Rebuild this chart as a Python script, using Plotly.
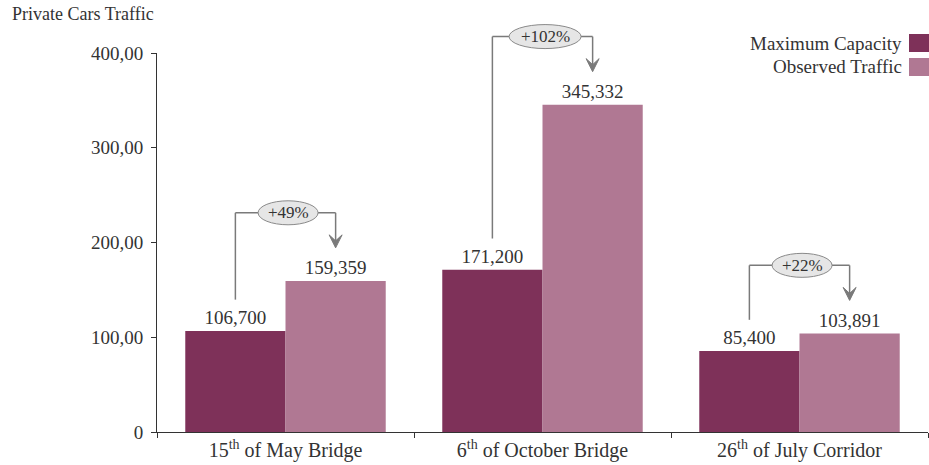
import plotly.graph_objects as go

categories = ["15th of May Bridge", "6th of October Bridge", "26th of July Corridor"]
category_labels = ["15<sup>th</sup> of May Bridge", "6<sup>th</sup> of October Bridge", "26<sup>th</sup> of July Corridor"]
max_capacity = [106.700, 171.200, 85.400]
observed_traffic = [159.359, 345.332, 103.891]
max_labels = ["106,700", "171,200", "85,400"]
obs_labels = ["159,359", "345,332", "103,891"]
pct_labels = ["+49%", "+102%", "+22%"]
y_tickvals = [0, 100, 200, 300, 400]
y_ticktext = ["0", "100,00", "200,00", "300,00", "400,00"]

DARK = "#7E3159"
LIGHT = "#B07893"
FONT = "Liberation Serif"
TXT = "#333333"
GREY = "#7a7a7a"

W, H = 929, 465
L, R, T, B = 157, 1, 53, 33
PW, PH = W - L - R, H - T - B
YMAX = 400.0
NCAT = len(categories)


def px_x(px):
    return (px - L) / PW


def px_y(py):
    return (H - B - py) / PH


def val_y(v):
    return v / YMAX


fig = go.Figure()
fig.add_trace(go.Bar(x=categories, y=max_capacity, name="Maximum Capacity",
                     marker=dict(color=DARK, line=dict(width=0)),
                     text=max_labels, textposition="outside",
                     textfont=dict(family=FONT, size=19, color=TXT), cliponaxis=False))
fig.add_trace(go.Bar(x=categories, y=observed_traffic, name="Observed Traffic",
                     marker=dict(color=LIGHT, line=dict(width=0)),
                     text=obs_labels, textposition="outside",
                     textfont=dict(family=FONT, size=19, color=TXT), cliponaxis=False))

bargap = 0.22
off = (1 - bargap) / 4  # center offset of each bar within a group
cat_px = PW / NCAT      # pixels per category unit

shapes = []
annotations = []
for i in range(NCAT):
    xd = i - off
    xl = i + off
    y_bot = val_y(max_capacity[i] + 33)
    y_top = val_y(observed_traffic[i] + 72)
    y_tip = val_y(observed_traffic[i] + 35)
    line = dict(color=GREY, width=1.5)
    shapes.append(dict(type="line", xref="x", yref="paper", x0=xd, x1=xd, y0=y_bot, y1=y_top, line=line))
    shapes.append(dict(type="line", xref="x", yref="paper", x0=xd, x1=xl, y0=y_top, y1=y_top, line=line))
    shapes.append(dict(type="line", xref="x", yref="paper", x0=xl, x1=xl, y0=y_top, y1=y_tip + 6 / PH, line=line))
    # arrow head (barbed), size in pixels converted to axis / paper units
    hx = 6.5 / cat_px
    hy = 13 / PH
    ny = 7 / PH
    path = (f"M {xl} {y_tip} L {xl - hx} {y_tip + hy} L {xl} {y_tip + ny} "
            f"L {xl + hx} {y_tip + hy} Z")
    shapes.append(dict(type="path", xref="x", yref="paper", path=path,
                       fillcolor=GREY, line=dict(color=GREY, width=1)))
    w = 36 if len(pct_labels[i]) > 4 else 30
    shapes.append(dict(type="circle", xref="x", yref="paper", xsizemode="pixel", ysizemode="pixel",
                       xanchor=i + 0.01, yanchor=y_top, x0=-w, x1=w, y0=-12, y1=12,
                       fillcolor="#e6e6e6", line=dict(color="#8a8a8a", width=1)))
    annotations.append(dict(x=i + 0.01, y=y_top, xref="x", yref="paper", text=pct_labels[i],
                            showarrow=False, xanchor="center", yanchor="middle",
                            font=dict(family=FONT, size=17, color=TXT)))

# title
annotations.append(dict(x=px_x(10), y=px_y(14), xref="paper", yref="paper", text="Private Cars Traffic",
                        showarrow=False, xanchor="left", yanchor="middle",
                        font=dict(family=FONT, size=18, color=TXT)))

# legend drawn manually (swatch to the right of the text, as in the original)
legend_items = [("Maximum Capacity", DARK, 43), ("Observed Traffic", LIGHT, 67)]
for name, col, ypx in legend_items:
    annotations.append(dict(x=px_x(904), y=px_y(ypx), xref="paper", yref="paper", text=name,
                            showarrow=False, xanchor="right", yanchor="middle",
                            font=dict(family=FONT, size=19, color=TXT)))
    shapes.append(dict(type="rect", xref="paper", yref="paper",
                       x0=px_x(909), x1=px_x(929), y0=px_y(ypx + 9), y1=px_y(ypx - 9),
                       fillcolor=col, line=dict(width=0)))

fig.update_layout(
    width=W, height=H,
    margin=dict(l=L, r=R, t=T, b=B, autoexpand=False),
    paper_bgcolor="white", plot_bgcolor="white",
    barmode="group", bargap=bargap, bargroupgap=0,
    showlegend=False,
    font=dict(family=FONT, size=18, color=TXT),
    xaxis=dict(type="category", tickvals=categories, ticktext=category_labels,
               showline=True, linecolor="#333", linewidth=1, ticks="outside", tickson="boundaries",
               ticklen=5, tickcolor="#333", showgrid=False, automargin=False,
               tickfont=dict(family=FONT, size=20, color=TXT)),
    yaxis=dict(range=[0, YMAX], tickvals=y_tickvals, ticktext=y_ticktext,
               showline=True, linecolor="#333", linewidth=1, ticks="outside", ticklen=5,
               ticklabelstandoff=4,
               tickcolor="#333", showgrid=False, zeroline=False, automargin=False,
               tickfont=dict(family=FONT, size=19, color=TXT)),
    shapes=shapes,
    annotations=annotations,
)

fig.write_html("out.html", config={"displayModeBar": False},
               post_script="document.body.style.margin='0';")
